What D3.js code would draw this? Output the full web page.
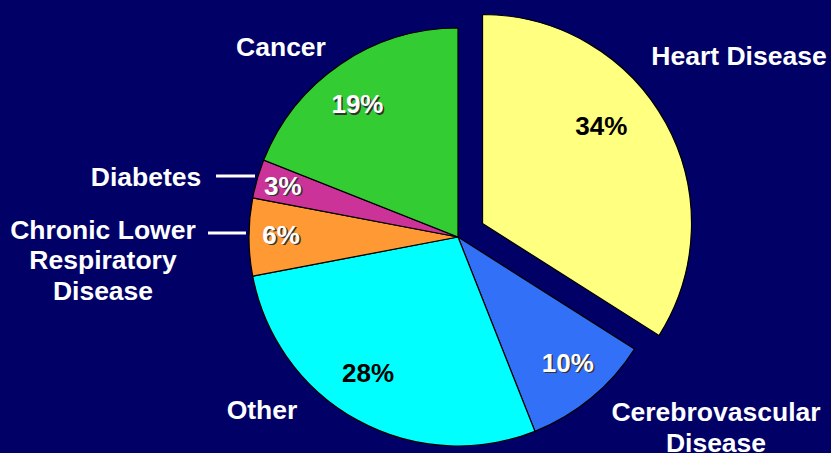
<!DOCTYPE html>
<html>
<head>
<meta charset="utf-8">
<script src="https://cdn.jsdelivr.net/npm/d3@7"></script>
<style>
  html, body { margin: 0; padding: 0; background: #000066; }
  svg { display: block; }
</style>
</head>
<body>
<svg id="chart" width="831" height="453"></svg>
<script>
// ---- data ----
const categories = ["Heart Disease", "Cerebrovascular Disease", "Other", "Chronic Lower Respiratory Disease", "Diabetes", "Cancer"];
const values = [34, 10, 28, 6, 3, 19];
const percentLabels = ["34%", "10%", "28%", "6%", "3%", "19%"];
const nameLines = [["Heart Disease"], ["Cerebrovascular", "Disease"], ["Other"], ["Chronic Lower", "Respiratory", "Disease"], ["Diabetes"], ["Cancer"]];

// ---- styling / layout ----
const colors = ["#FFFF80", "#3370F8", "#00FFFF", "#FF9933", "#CC3399", "#33CC33"];
const pctFill = ["#000000", "#FFFFFF", "#000000", "#FFFFFF", "#FFFFFF", "#FFFFFF"];
const explode = [28, 0, 0, 0, 0, 0];
// percent label placement: [angle offset from slice mid (deg), radius px]
const pctPlace = [[-10.7, 154], [-1.5, 167], [4.7, 163], [0.7, 177], [0.1, 182.5], [-2.9, 166.7]];
// category label placement (x, first baseline, anchor, line gap)
const namePlace = [
  {x: 739, y: 65, anchor: "middle", gap: 30},
  {x: 716, y: 421, anchor: "middle", gap: 31},
  {x: 262, y: 419, anchor: "middle", gap: 30},
  {x: 103, y: 238.5, anchor: "middle", gap: 30.5},
  {x: 146, y: 186, anchor: "middle", gap: 30},
  {x: 281, y: 56, anchor: "middle", gap: 30}
];
// leader lines: [x1, x2, y] per category index
const leaders = {3: [208, 246, 233], 4: [216, 255, 176]};

const cx = 458, cy = 237, R = 209;
const svg = d3.select("#chart");
svg.append("rect").attr("width", 831).attr("height", 453).attr("fill", "#000066");

const data = categories.map((c, i) => ({name: c, value: values[i], i}));
const pie = d3.pie().value(d => d.value).sort(null).startAngle(0).endAngle(2 * Math.PI);
const arcs = pie(data);
const arc = d3.arc().innerRadius(0).outerRadius(R);

const g = svg.append("g").attr("transform", `translate(${cx},${cy})`);

function offsetFor(a) {
  const mid = (a.startAngle + a.endAngle) / 2;
  const d = explode[a.data.i];
  return [d * Math.sin(mid), -d * Math.cos(mid)];
}

g.selectAll("path.slice")
  .data(arcs)
  .join("path")
  .attr("class", "slice")
  .attr("d", arc)
  .attr("transform", d => { const o = offsetFor(d); return `translate(${o[0]},${o[1]})`; })
  .attr("fill", d => colors[d.data.i])
  .attr("stroke", "#000")
  .attr("stroke-width", 1.2)
  .attr("stroke-linejoin", "miter");

const font = "'Liberation Sans', Arial, Helvetica, sans-serif";

// percent labels
arcs.forEach(a => {
  const i = a.data.i;
  const o = offsetFor(a);
  const ang = (a.startAngle + a.endAngle) / 2 + pctPlace[i][0] * Math.PI / 180;
  const r = pctPlace[i][1];
  const x = o[0] + r * Math.sin(ang);
  const y = o[1] - r * Math.cos(ang);
  const make = (dx, dy, fill) => g.append("text")
    .attr("x", x + dx).attr("y", y + dy)
    .attr("text-anchor", "middle").attr("dominant-baseline", "central")
    .attr("font-family", font).attr("font-weight", "bold").attr("font-size", 26)
    .attr("fill", fill).text(percentLabels[i]);
  if (pctFill[i] === "#FFFFFF") make(1.5, 1.5, "#333333");
  make(0, 0, pctFill[i]);
});

// category labels
nameLines.forEach((lines, i) => {
  const p = namePlace[i];
  const t = svg.append("text")
    .attr("text-anchor", p.anchor)
    .attr("font-family", font).attr("font-weight", "bold").attr("font-size", 26.5)
    .attr("fill", "#FFFFFF");
  lines.forEach((ln, k) => {
    t.append("tspan").attr("x", p.x).attr("y", p.y + k * p.gap).text(ln);
  });
});

// leader lines
Object.keys(leaders).forEach(k => {
  const l = leaders[k];
  svg.append("line").attr("x1", l[0]).attr("x2", l[1]).attr("y1", l[2]).attr("y2", l[2])
    .attr("stroke", "#FFFFFF").attr("stroke-width", 3);
});
</script>
</body>
</html>
